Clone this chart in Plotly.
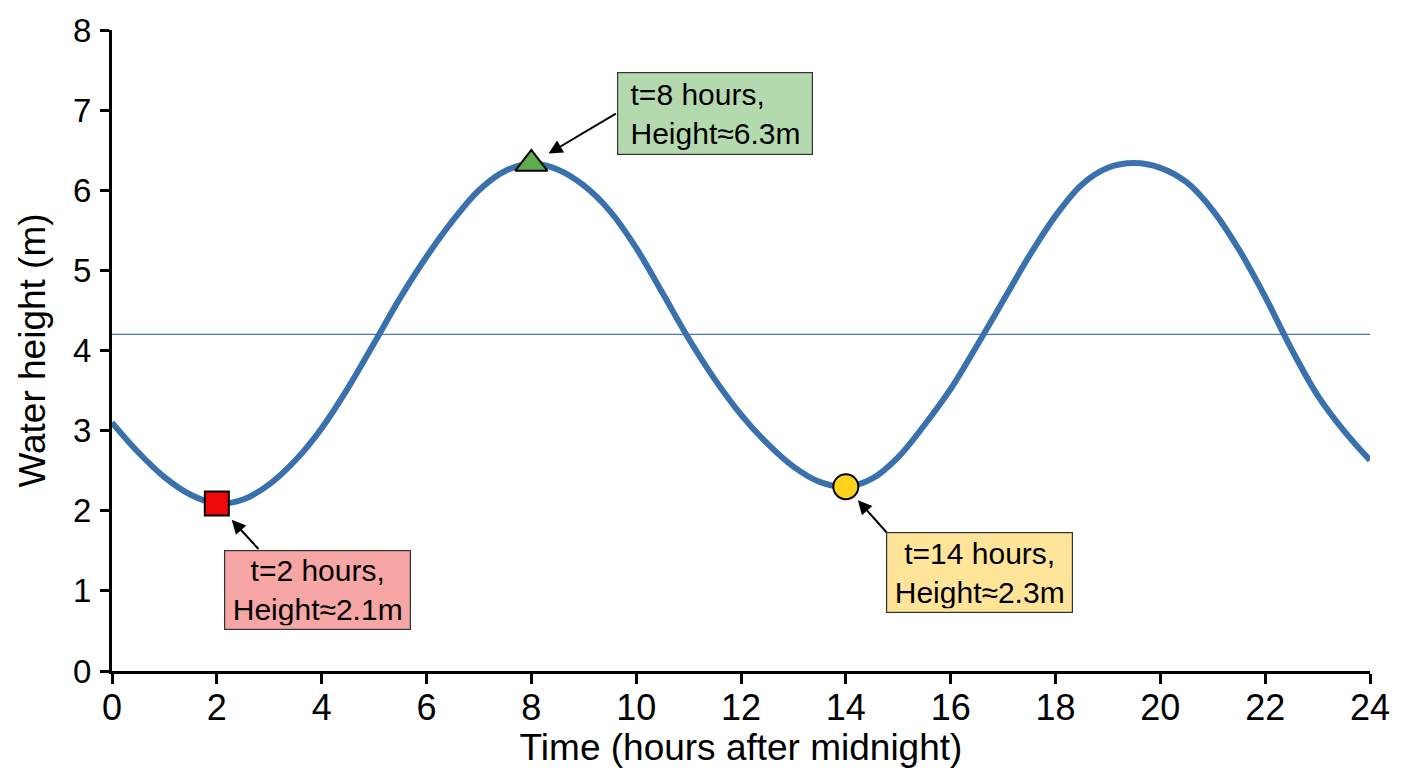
import plotly.graph_objects as go

# Water height, every half hour
hours = [0, 0.5, 1, 1.5, 2, 2.5, 3, 3.5, 4, 4.5, 5, 5.5, 6, 6.5, 7, 7.5, 8, 8.5,
         9, 9.5, 10, 10.5, 11, 11.5, 12, 12.5, 13, 13.5, 14, 14.5, 15, 15.5, 16,
         16.5, 17, 17.5, 18, 18.5, 19, 19.5, 20, 20.5, 21, 21.5, 22, 22.5, 23,
         23.5, 24]
height_m = [3.10, 2.73, 2.42, 2.20, 2.09, 2.14, 2.33, 2.63, 3.03, 3.53, 4.09, 4.66,
            5.17, 5.62, 6.00, 6.24, 6.33, 6.26, 6.06, 5.74, 5.28, 4.72, 4.15, 3.64,
            3.20, 2.84, 2.55, 2.36, 2.30, 2.40, 2.67, 3.07, 3.52, 4.06, 4.62, 5.18,
            5.68, 6.07, 6.28, 6.34, 6.28, 6.10, 5.75, 5.26, 4.67, 4.02, 3.44, 3.00,
            2.63]

# mean water level line
mean_x = [0, 24]
mean_level = [4.2, 4.2]

# highlighted points
pt_t = [2, 8, 14]
pt_h = [2.09, 6.33, 2.30]
pt_symbols = ["square", "triangle-up", "circle"]
pt_colors = ["#EE0A0A", "#5DAD4E", "#FFD21C"]
pt_sizes = [24, 28, 25]
pt_labels = ["t=2 hours,<br>Height≈2.1m",
             "&nbsp;t=8 hours,<br>&nbsp;Height≈6.3m",
             "t=14 hours,<br>Height≈2.3m"]
box_colors = ["#F6A6A5", "#B5D9AE", "#FEE498"]

FONT = "Arial, Liberation Sans, sans-serif"

fig = go.Figure()

fig.add_trace(go.Scatter(
    x=mean_x, y=mean_level, mode="lines",
    line=dict(color="#4A79B5", width=1.3),
    hoverinfo="skip", showlegend=False
))

fig.add_trace(go.Scatter(
    x=hours, y=height_m, mode="lines",
    line=dict(color="#3A71AD", width=6, shape="spline", smoothing=1),
    showlegend=False
))

fig.add_trace(go.Scatter(
    x=pt_t, y=pt_h, mode="markers",
    marker=dict(symbol=pt_symbols, color=pt_colors, size=pt_sizes, opacity=1,
                line=dict(color="black", width=2)),
    showlegend=False
))

# text boxes (offsets in pixels from each point) and arrows
box_shift = [(101, -86), (184, 50), (134, -86)]
box_align = ["center", "left", "center"]
box_size = [(177, 70), (186, 73), (177, 71)]  # width, height
arrow_tail = [(43, 47), (86, -51), (42, 47)]
arrow_standoff = [22, 20, 18]

for i in range(3):
    fig.add_annotation(
        x=pt_t[i], y=pt_h[i], xref="x", yref="y",
        text=pt_labels[i], showarrow=False,
        xshift=box_shift[i][0], yshift=box_shift[i][1],
        align=box_align[i], width=box_size[i][0], height=box_size[i][1],
        borderpad=4,
        bgcolor=box_colors[i], bordercolor="#333333", borderwidth=1.2,
        font=dict(family=FONT, size=30, color="black")
    )
    fig.add_annotation(
        x=pt_t[i], y=pt_h[i], xref="x", yref="y",
        text="", showarrow=True,
        ax=arrow_tail[i][0], ay=arrow_tail[i][1],
        arrowhead=2, arrowsize=1.4, arrowwidth=2, arrowcolor="black",
        standoff=arrow_standoff[i]
    )

# page body adds 8px around the figure, so the figure is 8px smaller
fig.update_layout(
    width=1400, height=760,
    margin=dict(l=104, r=38, t=22, b=97),
    paper_bgcolor="white", plot_bgcolor="white",
    font=dict(family=FONT, color="black"),
    showlegend=False
)

fig.update_xaxes(
    range=[0, 24], tickmode="array", tickvals=list(range(0, 25, 2)),
    showline=True, linecolor="black", linewidth=3,
    ticks="outside", ticklen=10, tickwidth=3, tickcolor="black",
    showgrid=False, zeroline=False, automargin=False,
    tickfont=dict(size=36), ticklabelstandoff=-7,
    title=dict(text="Time (hours after midnight)", font=dict(size=37), standoff=4)
)
fig.update_yaxes(
    range=[0, 8], tickmode="array", tickvals=list(range(0, 9)),
    showline=True, linecolor="black", linewidth=3,
    ticks="outside", ticklen=9, tickwidth=3, tickcolor="black",
    showgrid=False, zeroline=False, automargin=False,
    tickfont=dict(size=33), ticklabelstandoff=2,
    title=dict(text="Water height (m)", font=dict(size=37), standoff=17)
)

fig.write_html("out.html")
